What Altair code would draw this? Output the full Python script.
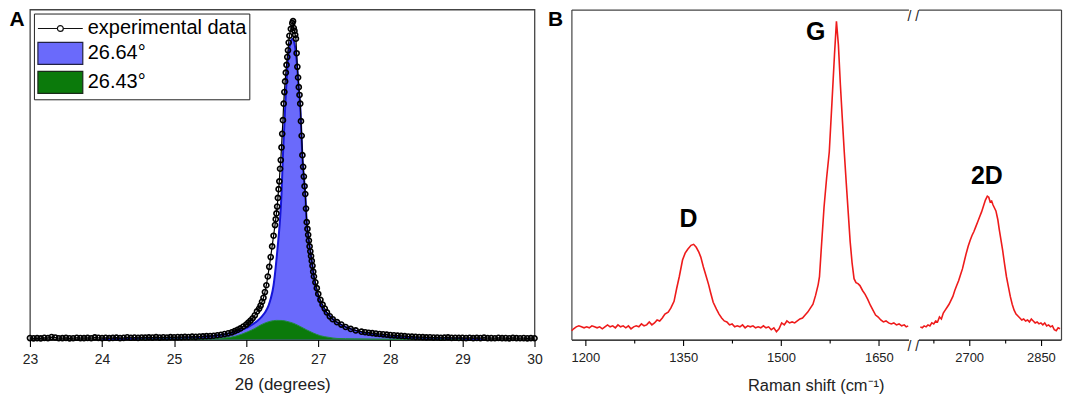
import altair as alt
import pandas as pd

FONT = "Liberation Sans"

# ---------------- Panel A : XRD (002) peak ----------------
xrd_theta = [
    23.00, 23.05, 23.10, 23.15, 23.20, 23.25, 23.30, 23.35, 23.40, 23.45,
    23.50, 23.55, 23.60, 23.65, 23.70, 23.75, 23.80, 23.85, 23.90, 23.95,
    24.00, 24.05, 24.10, 24.15, 24.20, 24.25, 24.30, 24.35, 24.40, 24.45,
    24.50, 24.55, 24.60, 24.65, 24.70, 24.75, 24.80, 24.85, 24.90, 24.95,
    25.00, 25.05, 25.10, 25.15, 25.20, 25.25, 25.30, 25.35, 25.40, 25.45,
    25.50, 25.55, 25.60, 25.65, 25.70, 25.75,
    25.80, 25.84, 25.88, 25.92, 25.96, 26.00, 26.03, 26.06, 26.09, 26.12,
    26.15, 26.18, 26.20, 26.22, 26.24, 26.26, 26.28, 26.30, 26.32, 26.34,
    26.36, 26.38, 26.40, 26.41, 26.42, 26.43, 26.44, 26.45, 26.46, 26.47,
    26.48, 26.49, 26.50, 26.51, 26.52, 26.53, 26.54, 26.55, 26.56, 26.57,
    26.58, 26.59, 26.60, 26.62, 26.64, 26.65, 26.66, 26.67, 26.68, 26.69,
    26.70, 26.71, 26.72, 26.73, 26.74, 26.75, 26.76, 26.77, 26.78, 26.79,
    26.80, 26.81, 26.82, 26.83, 26.84, 26.85, 26.86, 26.87, 26.88, 26.89,
    26.90, 26.91, 26.92, 26.93, 26.94, 26.96, 26.98, 27.00, 27.03, 27.06,
    27.09, 27.12, 27.16, 27.20, 27.26, 27.32, 27.38, 27.45, 27.52, 27.60,
    27.65, 27.70, 27.75, 27.80, 27.85, 27.90, 27.95, 28.00, 28.05, 28.10,
    28.15, 28.20, 28.25, 28.30, 28.35, 28.40, 28.45, 28.50, 28.55, 28.60,
    28.65, 28.70, 28.75, 28.80, 28.85, 28.90, 28.95, 29.00, 29.05, 29.10,
    29.15, 29.20, 29.25, 29.30, 29.35, 29.40, 29.45, 29.50, 29.55, 29.60,
    29.65, 29.70, 29.75, 29.80, 29.85, 29.90, 29.95, 30.00,
]
xrd_counts = [
    1.6, 1.3, 1.5, 1.2, 1.8, 1.6, 2.6, 2.2, 1.4, 1.5,
    1.7, 1.3, 1.4, 1.9, 1.6, 1.5, 1.7, 1.4, 2.3, 1.8,
    1.6, 1.9, 1.5, 1.7, 2.0, 1.6, 1.8, 2.4, 1.9, 2.1,
    1.8, 2.2, 2.0, 2.3, 2.1, 2.5, 2.1, 2.4, 2.2, 2.5,
    2.4, 2.6, 2.5, 2.8, 2.7, 3.0, 2.9, 3.2, 3.3, 3.5,
    3.7, 4.0, 4.5, 5.0, 5.7, 6.5,
    7.5, 8.7, 10, 11.5, 13.5, 15.5, 17.5, 19.5, 22, 25,
    29, 32, 35, 39, 43, 49, 56, 65, 75, 85,
    96, 107, 118, 124, 130, 137, 146, 155, 163, 176,
    185, 198, 212, 226, 243, 255, 266, 275, 283, 291,
    298, 306, 313, 320, 326, 328, 321, 318, 314, 310,
    295, 281, 270, 260, 252, 243, 225, 210, 190, 178,
    168, 158, 150, 135, 121, 114, 108, 102, 96, 91,
    86, 81, 76, 70, 65, 59, 53, 47, 41, 36,
    32, 28, 24, 21, 18, 15.5, 13, 11, 9.5, 8.2,
    7.6, 7.1, 6.6, 6.2, 5.8, 5.4, 5.1, 4.7, 4.4, 4.1,
    3.8, 3.5, 3.2, 3.0, 2.8, 2.7, 2.5, 2.3, 2.4, 2.1,
    2.2, 1.9, 2.0, 2.3, 1.8, 1.9, 1.7, 1.8, 1.6, 1.9,
    1.5, 1.7, 1.6, 2.0, 1.5, 1.6, 1.4, 1.8, 1.5, 1.6,
    1.3, 1.7, 1.5, 1.4, 1.6, 1.3, 1.5, 1.4,
]

fit_2664_theta = [
    24.0, 24.5, 25.0, 25.25, 25.5, 25.7, 25.85, 25.97, 26.06, 26.15,
    26.22, 26.27, 26.31, 26.34, 26.38, 26.40, 26.43, 26.45, 26.47, 26.49,
    26.51, 26.53, 26.55, 26.57, 26.59, 26.61, 26.63, 26.65, 26.67, 26.69,
    26.71, 26.73, 26.75, 26.77, 26.78, 26.80, 26.82, 26.84, 26.86, 26.88,
    26.90, 26.92, 26.94, 26.97, 27.01, 27.06, 27.14, 27.22, 27.30, 27.45,
    27.58, 27.75, 27.95, 28.3, 28.7, 29.0, 29.3,
]
fit_2664_counts = [
    0.3, 0.8, 1.4, 2.3, 3.5, 5.5, 8, 11, 14.5, 19,
    24, 29, 35, 42, 56, 68, 90, 106, 124, 150,
    190, 222, 253, 278, 296, 305, 309, 310, 305, 295,
    278, 258, 240, 205, 188, 168, 150, 121, 108, 96,
    86, 76, 65, 52, 42, 33, 26, 20, 16, 11,
    8, 5.5, 3.3, 2, 1.2, 0.7, 0.2,
]

fit_2643_theta = [
    24.5, 25.2, 25.65, 25.85, 26.02, 26.12, 26.2, 26.34, 26.42, 26.5,
    26.58, 26.66, 26.75, 26.84, 26.93, 27.03, 27.15, 27.26, 27.5, 28.0,
    28.9, 29.0,
]
fit_2643_counts = [
    0.3, 0.6, 1.5, 3.5, 8, 11.5, 15, 19, 19.8, 19.7,
    18.5, 16.7, 13.5, 10, 6.8, 4, 2.3, 1.2, 0.8, 0.5,
    0.3, 0,
]

series_names = ["experimental data", "26.64°", "26.43°"]
series_colors = ["white", "#6a6afb", "#0b7a0b"]
series_outline = ["#111111", "#222244", "#1a2a1a"]
theta_domain = [23, 30]
counts_domain = [0, 340]
theta_ticks = [23, 23.5, 24, 24.5, 25, 25.5, 26, 26.5, 27, 27.5, 28, 28.5, 29, 29.5, 30]

# ---------------- Panel B : Raman spectrum ----------------
raman_lo_shift = [
    1179, 1182, 1186, 1190, 1194, 1198, 1202, 1206, 1210, 1214,
    1218, 1222, 1226, 1230, 1234, 1238, 1242, 1246, 1250, 1254,
    1258, 1262, 1266, 1270, 1274, 1278, 1282, 1286, 1290, 1294,
    1298, 1302, 1306, 1310, 1314, 1318, 1322, 1327, 1331, 1336,
    1340, 1344, 1349, 1353, 1357, 1362, 1366, 1370, 1374, 1377,
    1381, 1385, 1389, 1392, 1396, 1401, 1405, 1409, 1413, 1417,
    1421, 1425, 1429, 1433, 1437, 1441, 1445, 1449, 1453, 1457,
    1461, 1465, 1469, 1473, 1477, 1481, 1485, 1489, 1493, 1497,
    1501, 1505, 1509, 1513, 1517, 1521, 1525, 1529, 1533, 1537,
    1541, 1545, 1549, 1553, 1557, 1559, 1562, 1566, 1570, 1574,
    1578, 1582, 1585, 1588, 1591, 1594, 1597, 1600, 1603, 1606,
    1609, 1612, 1615, 1618, 1621, 1625, 1629, 1633, 1637, 1641,
    1645, 1649, 1653, 1657, 1661, 1665, 1669, 1673, 1677, 1681,
    1685, 1689, 1692, 1695,
]
raman_lo_int = [
    9, 11, 13, 14, 13, 12, 13, 12, 14, 13,
    12, 13, 11, 13, 15, 13, 14, 12, 15, 13,
    14, 12, 14, 11, 13, 14, 13, 16, 14, 15,
    18, 15, 17, 20, 19, 22, 26, 28, 32, 39,
    52, 64, 81, 88, 92, 96, 97, 94, 89, 84,
    74, 65, 56, 48, 38, 31, 26, 22, 19, 18,
    15, 16, 13, 14, 13, 15, 12, 14, 13, 14,
    12, 13, 12, 14, 12, 13, 10, 12, 8, 11,
    17, 15, 19, 17, 18, 17, 19, 21, 22, 25,
    28, 32, 36, 45, 56, 64, 95, 135, 165, 191,
    240, 290, 324, 300, 260, 225, 191, 160, 130, 100,
    78, 62, 58, 57, 55, 50, 46, 41, 35, 30,
    25, 23, 20, 18, 19, 17, 16, 17, 15, 16,
    14, 15, 13, 14,
]
raman_hi_shift = [
    2598, 2602, 2606, 2610, 2614, 2618, 2622, 2626, 2630, 2634,
    2638, 2642, 2646, 2650, 2654, 2658, 2662, 2666, 2670, 2674,
    2678, 2682, 2686, 2690, 2694, 2698, 2702, 2706, 2710, 2714,
    2718, 2722, 2726, 2730, 2734, 2738, 2741, 2744, 2747, 2750,
    2753, 2756, 2760, 2763, 2766, 2770, 2774, 2778, 2782, 2786,
    2790, 2794, 2798, 2802, 2806, 2810, 2814, 2818, 2822, 2826,
    2830, 2834, 2838, 2842, 2846, 2850, 2854, 2858, 2862, 2866,
    2870, 2874, 2878, 2882, 2886, 2890,
]
raman_hi_int = [
    13, 12, 14, 13, 15, 14, 17, 16, 19, 18,
    23, 21, 27, 30, 33, 36, 40, 44, 50, 55,
    60, 66, 72, 80, 88, 95, 101, 106, 110, 115,
    120, 125, 130, 136, 142, 146, 145, 140, 141, 137,
    134, 131, 122, 112, 103, 91, 77, 64, 54, 44,
    36, 30, 26, 24, 22, 20, 21, 19, 20, 18,
    21, 19, 17, 18, 16, 17, 15, 17, 14, 15,
    13, 14, 10, 9, 12, 11,
]
peak_lo_names = ["D", "G"]
peak_lo_shift = [1358, 1553]
peak_lo_int = [123, 313]
peak_hi_names = ["2D"]
peak_hi_shift = [2737]
peak_hi_int = [167]
shift_lo_domain = [1178.6, 1695.4]
shift_hi_domain = [2594, 2892]
int_domain = [0, 336]
shift_lo_ticks = [1200, 1275, 1350, 1425, 1500, 1575, 1650]
shift_hi_ticks = [2625, 2700, 2775, 2850]
break_symbol = "/ /"

# ---------------- data frames ----------------
exp_df = pd.DataFrame({"theta": xrd_theta, "counts": xrd_counts})
fit1_df = pd.DataFrame({"theta": fit_2664_theta, "counts": fit_2664_counts})
fit2_df = pd.DataFrame({"theta": fit_2643_theta, "counts": fit_2643_counts})
legend_df = pd.DataFrame({"series": series_names})
tagA_df = pd.DataFrame({"theta": [theta_domain[0]], "counts": [counts_domain[1]], "tag": ["A"]})

lo_df = pd.DataFrame({"shift": raman_lo_shift, "intensity": raman_lo_int})
hi_df = pd.DataFrame({"shift": raman_hi_shift, "intensity": raman_hi_int})
plo_df = pd.DataFrame({"shift": peak_lo_shift, "intensity": peak_lo_int, "name": peak_lo_names})
phi_df = pd.DataFrame({"shift": peak_hi_shift, "intensity": peak_hi_int, "name": peak_hi_names})
tagB_df = pd.DataFrame({"shift": [shift_lo_domain[0]], "intensity": [int_domain[1]], "name": ["B"]})
brk_df = pd.DataFrame({
    "shift": [float(shift_lo_domain[1]), float(shift_lo_domain[1])],
    "level": [float(int_domain[1]), float(int_domain[0])],
    "mark": [break_symbol, break_symbol],
})

H = 331

# ---------------- Panel A ----------------
xA_scale = alt.Scale(domain=theta_domain, nice=False, zero=False)
yA_scale = alt.Scale(domain=counts_domain, nice=False, zero=False)
xA_axis = alt.Axis(
    values=theta_ticks, format="d",
    labelExpr="datum.value % 1 === 0 ? datum.label : ''",
    tickSize={"condition": {"test": "datum.value % 1 === 0", "value": 7}, "value": 4},
    title="2θ (degrees)", labelFontSize=14, titleFontSize=17,
    labelPadding=6, titlePadding=10, labelOverlap=False, labelFlush=False,
    domainColor="black", domainWidth=1.3, tickColor="black", tickWidth=1.1,
    labelColor="#222", titleColor="#222", titleFontWeight="normal", grid=False,
)

P_EXP = "M-1,0H0.775M1.315,0H3.09M0.775,0A0.27,0.27 0 1,0 1.315,0A0.27,0.27 0 1,0 0.775,0"
P_BOX = "M-1,-1H3.09V1H-1Z"
legendA = alt.Legend(
    title=None, orient="top-left", offset=4, padding=3,
    fillColor="white", strokeColor="#222",
    labelFont=FONT, labelFontSize=20, labelColor="black",
    symbolSize=484, symbolStrokeWidth=1.2,
    labelOffset=27, rowPadding=1, symbolOpacity=1,
)


def xa(f):
    return alt.X(f + ":Q", scale=xA_scale, axis=xA_axis)


def ya(f):
    return alt.Y(f + ":Q", scale=yA_scale, axis=None, stack=None)


blue_area = alt.Chart(fit1_df).mark_area(interpolate="monotone", color=series_colors[1]).encode(x=xa("theta"), y=ya("counts"))
blue_line = alt.Chart(fit1_df).mark_line(interpolate="monotone", color="#1515d8", strokeWidth=2).encode(x=xa("theta"), y=ya("counts"))
green_area = alt.Chart(fit2_df).mark_area(interpolate="monotone", color=series_colors[2]).encode(x=xa("theta"), y=ya("counts"))
green_line = alt.Chart(fit2_df).mark_line(interpolate="monotone", color="#1f8a3a", strokeWidth=1).encode(x=xa("theta"), y=ya("counts"))
exp_line = alt.Chart(exp_df).mark_line(color="black", strokeWidth=1.2).encode(x=xa("theta"), y=ya("counts"))
exp_pts = alt.Chart(exp_df).mark_point(shape="circle", filled=False, size=26, strokeWidth=1.6, color="black", opacity=1).encode(x=xa("theta"), y=ya("counts"))
legend_src = alt.Chart(legend_df).mark_point(filled=True, size=0, strokeWidth=1.2).encode(
    fill=alt.Fill("series:N", scale=alt.Scale(domain=series_names, range=series_colors), legend=legendA),
    stroke=alt.Stroke("series:N", scale=alt.Scale(domain=series_names, range=series_outline), legend=legendA),
    shape=alt.Shape("series:N", scale=alt.Scale(domain=series_names, range=[P_EXP, P_BOX, P_BOX]), legend=legendA),
)
tagA = alt.Chart(tagA_df).mark_text(align="center", baseline="top", dx=-13, fontSize=21, fontWeight="bold", font=FONT, color="black").encode(
    x=xa("theta"), y=ya("counts"), text="tag:N")

panel_a = alt.layer(blue_area, blue_line, green_area, green_line, exp_line, exp_pts, legend_src, tagA).properties(width=506, height=H)

# ---------------- Panel B ----------------
yB_scale = alt.Scale(domain=int_domain, nice=False, zero=False)
frame_col = "#444"
top_axis = alt.Axis(orient="top", domain=True, ticks=False, labels=False, title=None, grid=False, domainColor=frame_col, domainWidth=1.2)


def bottom_axis(vals, **kw):
    return alt.Axis(
        values=vals, format="d",
        labelExpr="datum.value % 150 === 0 ? datum.label : ''",
        tickSize={"condition": {"test": "datum.value % 150 === 0", "value": 6}, "value": 3.5},
        labelFontSize=13, labelPadding=6, labelOverlap=False, labelFlush=False,
        domainColor="black", domainWidth=1.2, tickColor="black", tickWidth=1.1,
        labelColor="#222", titleColor="#222", titleFontWeight="normal", grid=False, **kw)


xBl_axis = bottom_axis(shift_lo_ticks, title="Raman shift (cm⁻¹)", titleFontSize=16.5, titlePadding=13, titleX=245)
xBr_axis = bottom_axis(shift_hi_ticks, title=None)
yBl_axis = alt.Axis(orient="left", domain=True, ticks=False, labels=False, title=None, grid=False, domainColor=frame_col, domainWidth=1.2)
yBr_axis = alt.Axis(orient="right", domain=True, ticks=False, labels=False, title=None, grid=False, domainColor=frame_col, domainWidth=1.2)
xBl_scale = alt.Scale(domain=shift_lo_domain, nice=False, zero=False)
xBr_scale = alt.Scale(domain=shift_hi_domain, nice=False, zero=False)
RED = "#ee1b1b"

line_lo = alt.Chart(lo_df).mark_line(color=RED, strokeWidth=1.6).encode(
    x=alt.X("shift:Q", scale=xBl_scale, axis=xBl_axis), y=alt.Y("intensity:Q", scale=yB_scale, axis=yBl_axis))
lab_lo = alt.Chart(plo_df).mark_text(fontSize=25, fontWeight="bold", font=FONT, color="black").encode(
    x=alt.X("shift:Q", scale=xBl_scale, axis=top_axis), y=alt.Y("intensity:Q", scale=yB_scale, axis=yBl_axis), text="name:N")
tagB = alt.Chart(tagB_df).mark_text(align="center", baseline="top", dx=-16, fontSize=21, fontWeight="bold", font=FONT, color="black").encode(
    x=alt.X("shift:Q", scale=xBl_scale, axis=None), y=alt.Y("intensity:Q", scale=yB_scale, axis=yBl_axis), text="name:N")
brk = alt.Chart(brk_df).mark_text(dx=5, fontSize=14, font=FONT, color="#222", baseline="top", align="center").encode(
    x=alt.X("shift:Q", scale=xBl_scale, axis=None), y=alt.Y("level:Q", scale=yB_scale, axis=yBl_axis), text="mark:N")
b_left = alt.layer(line_lo, lab_lo, tagB, brk).resolve_axis(x="independent").properties(
    width=338, height=H, view=alt.ViewBackground(stroke="transparent"))

line_hi = alt.Chart(hi_df).mark_line(color=RED, strokeWidth=1.6).encode(
    x=alt.X("shift:Q", scale=xBr_scale, axis=xBr_axis), y=alt.Y("intensity:Q", scale=yB_scale, axis=yBr_axis))
lab_hi = alt.Chart(phi_df).mark_text(fontSize=25, fontWeight="bold", font=FONT, color="black").encode(
    x=alt.X("shift:Q", scale=xBr_scale, axis=top_axis), y=alt.Y("intensity:Q", scale=yB_scale, axis=yBr_axis), text="name:N")
b_right = alt.layer(line_hi, lab_hi).resolve_axis(x="independent").properties(
    width=143, height=H, view=alt.ViewBackground(stroke="transparent"))

panel_b = alt.hconcat(b_left, b_right, spacing=10, bounds="flush")

chart = alt.hconcat(panel_a, panel_b, spacing=37, bounds="flush", padding=0, background="white").configure(
    font=FONT).configure_view(stroke="#444", strokeWidth=1.3).configure_axis(labelFont=FONT, titleFont=FONT).configure_text(font=FONT)

chart.save("out.html", embed_options={"renderer": "svg", "actions": False})
